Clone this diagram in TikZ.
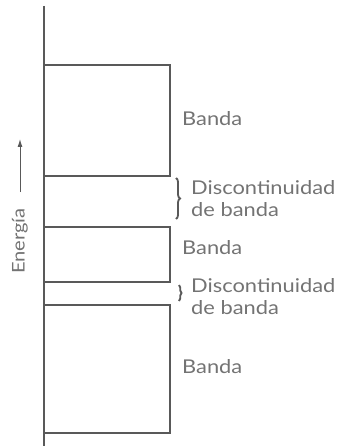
\documentclass[tikz,border=0pt]{standalone}
\usepackage{fontspec}
\setmainfont{Lato}
\newfontfamily\widefont[FakeStretch=1.15]{Lato}
\usetikzlibrary{decorations.pathreplacing,arrows.meta}
\definecolor{ln}{gray}{0.35}
\definecolor{tx}{gray}{0.45}
\tikzset{
  band/.style={draw=ln, line width=1.3pt},
  lbl/.style={text=tx, font=\widefont\fontsize{19}{22}\selectfont, anchor=west, inner sep=0pt, align=left},
  brc/.style={draw=ln, line width=1.8pt, decorate, decoration={brace, amplitude=4pt}},
}
\begin{document}
\begin{tikzpicture}[x=1pt,y=-1pt]
\useasboundingbox (0,0) rectangle (339,446);
% axis
\coordinate (atop) at (44,6);
\coordinate (abot) at (44,446);
\draw[ln, line width=1.1pt] (atop) -- (abot);
% bands
\draw[band] (44,65) -- (170,65) -- (170,176) -- (44,176);
\draw[band] (44,227) -- (170,227) -- (170,282) -- (44,282);
\draw[band] (44,305) -- (170,305) -- (170,433) -- (44,433);
% energy arrow
\coordinate (ea) at (20,192);
\coordinate (eb) at (20,139);
\draw[ln, line width=1pt, -{Latex[length=8pt,width=5pt]}] (ea) -- (eb);
\node[text=tx, font=\widefont\fontsize{17.5}{20}\selectfont, rotate=90, inner sep=0pt] (en) at (20,241) {Energía};
% labels
\node[lbl] (b1) at (182,119) {Banda};
\node[lbl] (b2) at (182,248) {Banda};
\node[lbl] (b3) at (182,367) {Banda};
\coordinate (br1a) at (176,178);
\coordinate (br1b) at (176,219);
\draw[brc] (br1a) -- (br1b);
\node[lbl] (d1) at (191,199) {Discontinuidad\\de banda};
\coordinate (br2a) at (179,285);
\coordinate (br2b) at (179,301);
\draw[brc, decoration={brace, amplitude=2.5pt}] (br2a) -- (br2b);
\node[lbl] (d2) at (191,297) {Discontinuidad\\de banda};
\end{tikzpicture}
\end{document}
